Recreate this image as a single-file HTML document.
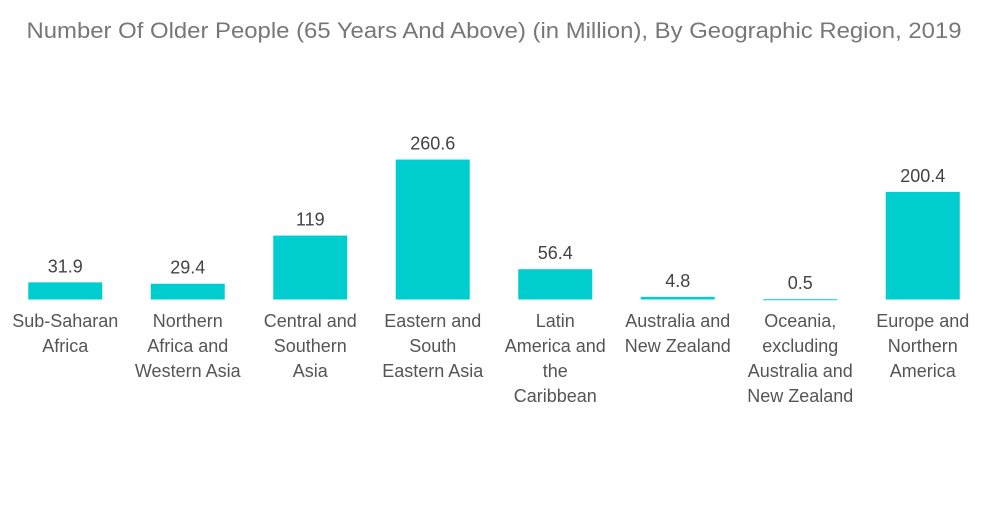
<!DOCTYPE html>
<html><head><meta charset="utf-8"><style>
body{margin:0;background:#fff;}
svg text{font-family:"Liberation Sans",sans-serif;}
</style></head><body>
<svg width="1000" height="504" viewBox="0 0 1000 504">
<text x="494" y="38" text-anchor="middle" font-size="22" textLength="935" lengthAdjust="spacingAndGlyphs" fill="#777">Number Of Older People (65 Years And Above) (in Million), By Geographic Region, 2019</text>
<g id="bars"></g>
</svg>
<script>
const categories=[["Sub-Saharan","Africa"],["Northern","Africa and","Western Asia"],["Central and","Southern","Asia"],["Eastern and","South","Eastern Asia"],["Latin","America and","the","Caribbean"],["Australia and","New Zealand"],["Oceania,","excluding","Australia and","New Zealand"],["Europe and","Northern","America"]];
const values=[31.9,29.4,119,260.6,56.4,4.8,0.5,200.4];
const valueLabels=["31.9","29.4","119","260.6","56.4","4.8","0.5","200.4"];
const baseY=299.5, scale=0.537, x0=4, band=122.5, bw=74;
const xPos=i=>x0+band*i+band/2;
const yPos=v=>baseY-v*scale;
const g=document.getElementById('bars');
const NS="http://www.w3.org/2000/svg";
values.forEach((v,i)=>{
 const r=document.createElementNS(NS,'rect');
 
 
 const top=yPos(v);
 r.setAttribute('x',xPos(i)-bw/2);r.setAttribute('y',top);
 r.setAttribute('width',bw);r.setAttribute('height',Math.max(baseY-top,1));
 r.setAttribute('fill','#00cdcd');g.appendChild(r);
 const t=document.createElementNS(NS,'text');
 
 
 t.setAttribute('x',xPos(i));t.setAttribute('y',top-10);
 t.setAttribute('text-anchor','middle');t.setAttribute('font-size','18');t.setAttribute('fill','#444');
 t.textContent=valueLabels[i];g.appendChild(t);
 categories[i].forEach((line,j)=>{
  const c=document.createElementNS(NS,'text');
  
  
  c.setAttribute('x',xPos(i));c.setAttribute('y',327+j*25);
  c.setAttribute('text-anchor','middle');c.setAttribute('font-size','18');c.setAttribute('fill','#555');
  c.textContent=line;g.appendChild(c);
 });
});
</script>
</body></html>
